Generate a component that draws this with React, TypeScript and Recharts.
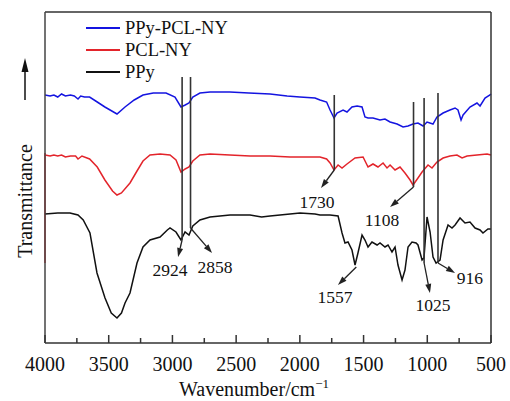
import {
  LineChart,
  Line,
  XAxis,
  YAxis,
  Legend,
  ReferenceLine,
  ReferenceDot,
} from 'recharts';

const FONT = '"Liberation Serif", "Times New Roman", serif';

// wavenumber (cm-1), transmittance (a.u., offset per curve)
const ppyPclNy = [
  [4000, 248], [3960, 247], [3930, 248], [3900, 246], [3870, 249], [3840, 247], [3800, 248],
  [3770, 247], [3741, 244], [3720, 247], [3690, 246], [3650, 246], [3590, 241], [3530, 236],
  [3435, 229], [3372, 236], [3300, 243], [3231, 248], [3150, 250], [3050, 250], [2980, 246],
  [2933, 236], [2900, 238], [2870, 240], [2840, 246], [2784, 250], [2705, 251], [2550, 251],
  [2400, 250], [2234, 249], [2100, 247], [2000, 246], [1881, 245], [1842, 243], [1790, 241],
  [1763, 233], [1732, 225], [1708, 230], [1661, 233], [1630, 231], [1591, 236], [1551, 237],
  [1512, 236], [1489, 226], [1465, 225], [1426, 225], [1371, 223], [1332, 224], [1292, 221],
  [1237, 219], [1190, 216], [1151, 217], [1112, 219], [1073, 220], [1033, 217], [1002, 221],
  [955, 219], [924, 226], [876, 230], [822, 233], [782, 235], [759, 233], [735, 223],
  [719, 228], [665, 236], [610, 240], [586, 237], [547, 245], [508, 248], [500, 249],
];

const pclNy = [
  [4000, 188], [3960, 187], [3930, 188], [3900, 187], [3870, 188], [3840, 186], [3800, 187],
  [3760, 187], [3741, 184], [3710, 187], [3650, 184], [3590, 176], [3530, 163], [3470, 152],
  [3435, 148], [3400, 150], [3333, 160], [3278, 172], [3231, 182], [3176, 188], [3097, 189],
  [3019, 188], [2972, 183], [2933, 171], [2900, 174], [2870, 176], [2840, 182], [2784, 188],
  [2705, 189], [2550, 188], [2391, 187], [2234, 187], [2077, 186], [1999, 186], [1842, 186],
  [1790, 184], [1763, 180], [1732, 173], [1700, 178], [1669, 175], [1630, 179], [1567, 185],
  [1504, 186], [1465, 176], [1426, 179], [1387, 176], [1347, 180], [1316, 175], [1292, 178],
  [1253, 173], [1214, 176], [1175, 170], [1135, 163], [1112, 158], [1073, 165], [1041, 171],
  [994, 178], [963, 175], [924, 181], [876, 185], [822, 187], [767, 188], [727, 185],
  [688, 187], [610, 188], [531, 189], [500, 188],
];

const ppy = [
  [4000, 129], [3900, 130], [3804, 130], [3741, 128], [3700, 123], [3647, 110], [3592, 70],
  [3529, 45], [3480, 30], [3435, 25], [3400, 30], [3372, 40], [3333, 50], [3278, 80],
  [3231, 96], [3176, 103], [3097, 106], [3040, 113], [3019, 115], [2972, 111], [2933, 103],
  [2901, 111], [2870, 108], [2840, 117], [2784, 123], [2705, 126], [2548, 128], [2391, 128],
  [2300, 126], [2234, 127], [2077, 129], [1999, 130], [1881, 129], [1842, 128], [1763, 128],
  [1700, 127], [1669, 110], [1646, 100], [1622, 101], [1591, 93], [1567, 78], [1544, 90],
  [1512, 108], [1489, 103], [1465, 96], [1434, 101], [1394, 98], [1371, 100], [1332, 96],
  [1308, 98], [1277, 91], [1253, 96], [1230, 78], [1198, 63], [1175, 73], [1151, 96],
  [1120, 101], [1088, 100], [1073, 98], [1041, 83], [1026, 85], [1002, 126], [978, 111],
  [955, 86], [931, 80], [900, 83], [876, 103], [837, 118], [806, 115], [782, 118],
  [743, 125], [704, 120], [665, 121], [625, 115], [586, 113], [563, 110], [524, 114], [500, 114],
];

const xTicks = [4000, 3750, 3500, 3250, 3000, 2750, 2500, 2250, 2000, 1750, 1500, 1250, 1000, 750, 500];

// peak marker: vertical line (x, top, bottom), arrow end, label position
const peaks = [
  { label: '2924', x: 2924, top: 266, bottom: 103, ax: 2956, ay: 86, lx: 3019, ly: 73 },
  { label: '2858', x: 2858, top: 266, bottom: 115, ax: 2689, ay: 90, lx: 2666, ly: 76 },
  { label: '1730', x: 1730, top: 248, bottom: 173, ax: 1834, ay: 155, lx: 1865, ly: 141 },
  { label: '1108', x: 1108, top: 241, bottom: 156, ax: 1292, ay: 136, lx: 1355, ly: 123 },
  { label: '1557', x: 1557, top: null, bottom: 76, ax: 1701, ay: 58, lx: 1724, ly: 46 },
  { label: '1025', x: 1025, top: 245, bottom: 80, ax: 979, ay: 50, lx: 955, ly: 38 },
  { label: '916', x: 916, top: 250, bottom: 80, ax: 782, ay: 70, lx: 665, ly: 65 },
];

const series = [
  { name: 'PPy-PCL-NY', data: ppyPclNy, color: '#1414e0' },
  { name: 'PCL-NY', data: pclNy, color: '#e3242b' },
  { name: 'PPy', data: ppy, color: '#111111' },
];

const toRows = (arr: number[][]) => arr.map(([w, t]) => ({ w, t }));

function XTick(props: any) {
  const { x, y, payload } = props;
  const major = payload.value % 500 === 0;
  return (
    <g>
      <line x1={x} x2={x} y1={y} y2={y - (major ? 8 : 5)} stroke="#333" strokeWidth={1.5} />
      {major && (
        <text x={x} y={y + 28} textAnchor="middle" fontSize={20} fontFamily={FONT} fill="#111">
          {payload.value}
        </text>
      )}
    </g>
  );
}

function Arrow(props: any) {
  const { x1, y1, x2, y2 } = props;
  const a = Math.atan2(y2 - y1, x2 - x1);
  const len = 9;
  const half = 3;
  const bx = x2 - len * Math.cos(a);
  const by = y2 - len * Math.sin(a);
  const px = -Math.sin(a) * half;
  const py = Math.cos(a) * half;
  return (
    <g>
      <line x1={x1} y1={y1} x2={bx} y2={by} stroke="#222" strokeWidth={1.3} />
      <polygon points={`${x2},${y2} ${bx + px},${by + py} ${bx - px},${by - py}`} fill="#222" />
    </g>
  );
}

function LegendBox() {
  return (
    <div style={{ fontFamily: FONT, fontSize: 18.5, color: '#111', lineHeight: '22px' }}>
      {series.map((s) => (
        <div key={s.name} style={{ display: 'flex', alignItems: 'center', height: 22 }}>
          <span style={{ display: 'inline-block', width: 34, height: 0, borderTop: `2px solid ${s.color}`, marginRight: 5 }} />
          <span>{s.name}</span>
        </div>
      ))}
    </div>
  );
}

function YTitle() {
  return (
    <g>
      <line x1={25} x2={25} y1={100} y2={70} stroke="#111" strokeWidth={1.5} />
      <polygon points="25,58 21.5,72 28.5,72" fill="#111" />
      <text
        x={25}
        y={201}
        transform="rotate(-90 25 201)"
        textAnchor="middle"
        dominantBaseline="central"
        fontSize={20}
        fontFamily={FONT}
        fill="#111"
      >
        Transmittance
      </text>
    </g>
  );
}

function XTitle(props: any) {
  const { viewBox } = props;
  const cx = viewBox.x + viewBox.width / 2 - 14;
  return (
    <text x={cx} y={396} textAnchor="middle" fontSize={20} fontFamily={FONT} fill="#111">
      Wavenumber/cm
      <tspan dy={-8} fontSize={13}>−1</tspan>
    </text>
  );
}

export default function App() {
  return (
    <div style={{ position: 'absolute', left: 0, top: 0 }}>
      <LineChart width={510} height={401} margin={{ top: 11, right: 18, bottom: 0, left: 44 }}>
        <XAxis
          dataKey="w"
          type="number"
          domain={[500, 4000]}
          reversed
          ticks={xTicks}
          interval={0}
          height={58}
          tickSize={0}
          tickMargin={0}
          tickLine={false}
          axisLine={{ stroke: '#333', strokeWidth: 1.5 }}
          tick={<XTick />}
          label={{ content: (p: any) => <XTitle {...p} /> }}
        />
        <XAxis
          xAxisId="top"
          orientation="top"
          dataKey="w"
          type="number"
          domain={[500, 4000]}
          reversed
          height={1}
          tick={false}
          tickLine={false}
          axisLine={{ stroke: '#333', strokeWidth: 1.5 }}
        />
        <YAxis
          type="number"
          domain={[0, 331]}
          width={1}
          tick={false}
          tickLine={false}
          axisLine={{ stroke: '#444', strokeWidth: 1.5 }}
          label={{ content: () => <YTitle /> }}
        />
        <YAxis
          yAxisId="right"
          orientation="right"
          type="number"
          domain={[0, 331]}
          width={1}
          tick={false}
          tickLine={false}
          axisLine={{ stroke: '#333', strokeWidth: 1.5 }}
        />
        <ReferenceLine
          segment={[{ x: 4000, y: 190 }, { x: 4000, y: 80 }]}
          stroke="#e3242b"
          strokeWidth={1.5}
        />
        {series.map((s) => (
          <Line
            key={s.name}
            data={toRows(s.data)}
            dataKey="t"
            name={s.name}
            type="linear"
            stroke={s.color}
            strokeWidth={1.5}
            dot={false}
            isAnimationActive={false}
          />
        ))}
        {peaks
          .filter((p) => p.top !== null)
          .map((p) => (
            <ReferenceLine
              key={`v${p.label}`}
              segment={[{ x: p.x, y: p.top as number }, { x: p.x, y: p.bottom }]}
              stroke="#333"
              strokeWidth={1.6}
            />
          ))}
        {peaks.map((p) => (
          <ReferenceLine
            key={`a${p.label}`}
            segment={[{ x: p.x, y: p.bottom }, { x: p.ax, y: p.ay }]}
            shape={(sp: any) => <Arrow {...sp} />}
          />
        ))}
        {peaks.map((p) => (
          <ReferenceDot
            key={`l${p.label}`}
            x={p.lx}
            y={p.ly}
            r={0}
            fill="none"
            stroke="none"
            label={{ value: p.label, position: 'center', fontSize: 17.5, fontFamily: FONT, fill: '#111' }}
          />
        ))}
        <Legend
          layout="vertical"
          align="center"
          verticalAlign="middle"
          content={() => <LegendBox />}
          wrapperStyle={{ position: 'absolute', left: 86, top: 17, width: 'auto', height: 'auto' }}
        />
      </LineChart>
    </div>
  );
}
